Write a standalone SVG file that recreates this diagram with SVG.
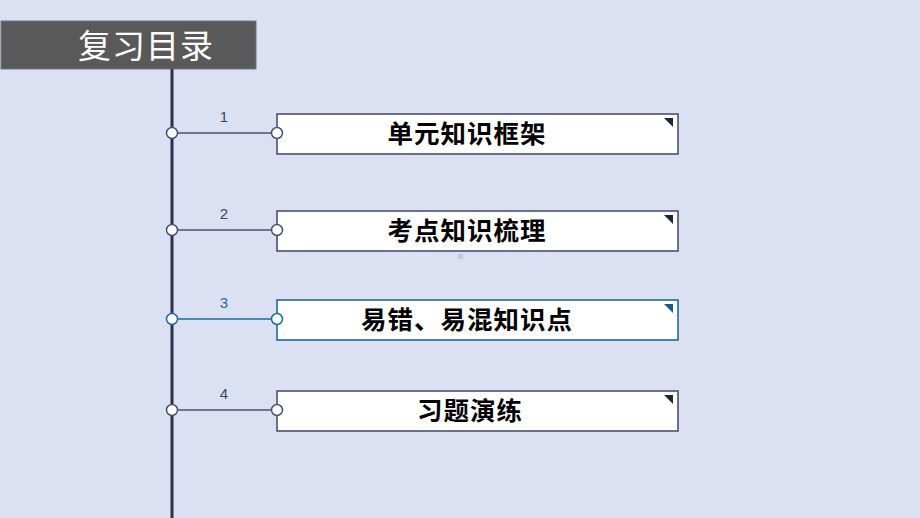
<svg xmlns="http://www.w3.org/2000/svg" width="920" height="518" viewBox="0 0 920 518">
<style>
.lbl{font-family:"Noto Sans CJK SC","Noto Sans",sans-serif;font-weight:bold;font-size:25.5px;letter-spacing:1px;fill:#000;text-anchor:middle}
.num{font-family:"Liberation Sans",Arial,sans-serif;font-size:15px;text-anchor:middle}
.box{fill:#fff;stroke-width:1.6}
.dot{fill:#fff;stroke-width:1.5}
</style>
<rect width="920" height="518" fill="#dbe1f2"/>
<g id="title">
<rect x="1" y="21" width="255" height="48" fill="#595959" stroke="#6f7686" stroke-width="1"/>
<text x="146" y="58" font-family="Noto Sans CJK SC,sans-serif" font-size="33" fill="#fff" text-anchor="middle" letter-spacing="1">复习目录</text>
</g>
<g id="connectors">
<line x1="172" y1="69" x2="172" y2="518" stroke="#2b3148" stroke-width="3"/>
<line x1="172" y1="133" x2="277" y2="133" stroke="#4a5270" stroke-width="1.6"/>
<line x1="172" y1="230" x2="277" y2="230" stroke="#4a5270" stroke-width="1.6"/>
<line x1="172" y1="319" x2="277" y2="319" stroke="#1e6b9c" stroke-width="1.6"/>
<line x1="172" y1="410" x2="277" y2="410" stroke="#4a5270" stroke-width="1.6"/>
<text class="num" x="224" y="122" fill="#3c4561">1</text>
<text class="num" x="224" y="219" fill="#3c4561">2</text>
<text class="num" x="224" y="308" fill="#1e6b9c">3</text>
<text class="num" x="224" y="399" fill="#3c4561">4</text>
</g>
<g id="node1">
<rect class="box" x="277" y="114" width="401" height="40" stroke="#4a5270"/>
<polygon points="664,118 673,118 673,127" fill="#1f2538"/>
<circle class="dot" cx="172" cy="133" r="5.5" stroke="#4a5270"/>
<circle class="dot" cx="277" cy="133" r="5.5" stroke="#4a5270"/>
<text class="lbl" x="467" y="143">单元知识框架</text>
</g>
<g id="node2">
<rect class="box" x="277" y="211" width="401" height="40" stroke="#4a5270"/>
<polygon points="664,215 673,215 673,224" fill="#1f2538"/>
<circle class="dot" cx="172" cy="230" r="5.5" stroke="#4a5270"/>
<circle class="dot" cx="277" cy="230" r="5.5" stroke="#4a5270"/>
<text class="lbl" x="467" y="240">考点知识梳理</text>
</g>
<g id="node3">
<rect class="box" x="277" y="300" width="401" height="40" stroke="#1e6b9c"/>
<polygon points="664,304 673,304 673,313" fill="#1a5a85"/>
<circle class="dot" cx="172" cy="319" r="5.5" stroke="#1e6b9c"/>
<circle class="dot" cx="277" cy="319" r="5.5" stroke="#1e6b9c"/>
<text class="lbl" x="467" y="329">易错、易混知识点</text>
</g>
<g id="node4">
<rect class="box" x="277" y="391" width="401" height="40" stroke="#4a5270"/>
<polygon points="664,395 673,395 673,404" fill="#1f2538"/>
<circle class="dot" cx="172" cy="410" r="5.5" stroke="#4a5270"/>
<circle class="dot" cx="277" cy="410" r="5.5" stroke="#4a5270"/>
<text class="lbl" x="470" y="420">习题演练</text>
</g>
<rect x="458" y="254" width="5" height="5" fill="#c3c9d9"/>
</svg>
